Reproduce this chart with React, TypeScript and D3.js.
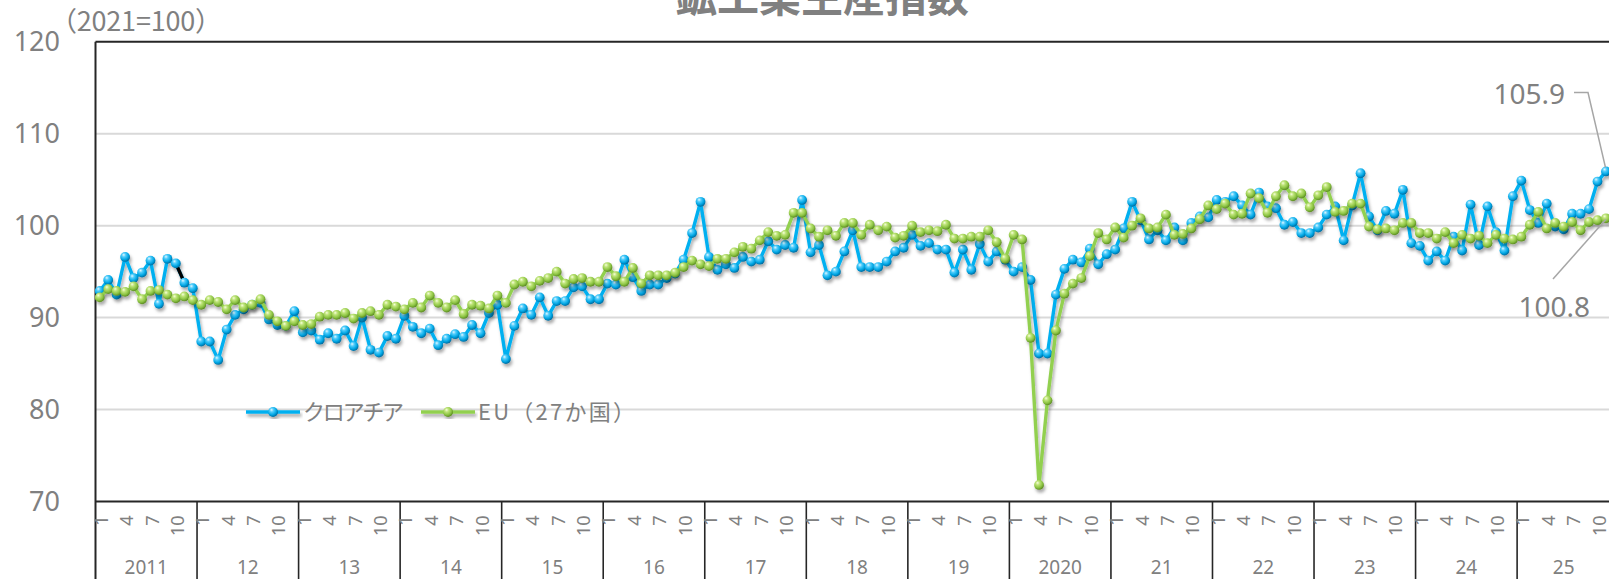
import React from 'react';
import * as d3 from 'd3';

// 鉱工業生産指数（2021=100）：クロアチアとEU（27か国）、2011年1月〜2025年11月
const years = ['2011', '12', '13', '14', '15', '16', '17', '18', '19', '2020', '21', '22', '23', '24', '25'];
const monthTickLabels = [1, 4, 7, 10];
const yTicks = [70, 80, 90, 100, 110, 120];
const gridTicks = [80, 90, 100, 110];

const croatia = [
  92.9, 94.1, 92.5, 96.6, 94.3, 94.9, 96.2, 91.5, 96.4, 95.9, 93.8, 93.2,
  87.4, 87.4, 85.4, 88.7, 90.3, 90.9, 91.4, 91.6, 89.8, 89.2, 89.1, 90.7,
  88.4, 88.6, 87.6, 88.3, 87.7, 88.6, 86.9, 90.0, 86.5, 86.2, 88.0, 87.7,
  90.2, 89.0, 88.3, 88.8, 87.0, 87.7, 88.2, 87.9, 89.2, 88.3, 90.5, 91.4,
  85.5, 89.1, 91.0, 90.3, 92.2, 90.2, 91.8, 91.8, 93.3, 93.4, 92.0, 92.0,
  93.7, 93.6, 96.3, 94.4, 92.9, 93.6, 93.6, 94.3, 94.8, 96.3, 99.2, 102.6,
  96.6, 95.2, 95.8, 95.4, 96.6, 96.1, 96.3, 98.3, 97.4, 97.9, 97.6, 102.8,
  97.1, 97.9, 94.6, 95.0, 97.2, 99.5, 95.5, 95.5, 95.5, 96.1, 97.2, 97.6,
  99.0, 97.8, 98.1, 97.4, 97.4, 94.9, 97.4, 95.2, 98.0, 96.1, 97.2, 96.3,
  95.0, 95.5, 94.1, 86.1, 86.1, 92.5, 95.3, 96.3, 96.0, 97.5, 95.8, 96.9,
  97.4, 99.7, 102.6, 100.6, 98.5, 99.5, 98.4, 99.8, 98.4, 100.3, 101.0, 100.9,
  102.8, 102.6, 103.2, 102.2, 101.2, 103.6, 102.1, 101.9, 100.1, 100.4, 99.2, 99.2,
  99.8, 101.2, 102.1, 98.4, 102.2, 105.7, 101.0, 99.5, 101.6, 101.3, 103.9, 98.1,
  97.8, 96.2, 97.2, 96.2, 98.8, 97.3, 102.3, 97.9, 102.1, 99.3, 97.3, 103.2,
  104.9, 101.7, 100.3, 102.4, 99.9, 99.6, 101.3, 101.3, 101.8, 104.8, 105.9
];

const eu27 = [
  92.2, 93.1, 92.9, 92.8, 93.4, 92.0, 92.9, 93.0, 92.5, 92.1, 92.3, 91.9,
  91.4, 91.9, 91.7, 90.9, 91.9, 91.1, 91.4, 92.0, 90.3, 89.6, 89.1, 89.6,
  89.2, 89.3, 90.1, 90.3, 90.3, 90.5, 89.9, 90.5, 90.7, 90.3, 91.4, 91.2,
  90.9, 91.6, 91.1, 92.4, 91.6, 91.1, 91.9, 90.4, 91.4, 91.3, 91.0, 92.4,
  91.6, 93.6, 93.9, 93.4, 94.0, 94.3, 95.0, 93.7, 94.2, 94.3, 93.9, 93.9,
  95.5, 94.5, 93.9, 95.4, 93.7, 94.6, 94.6, 94.6, 94.9, 95.5, 96.2, 95.8,
  95.6, 96.4, 96.4, 97.1, 97.7, 97.5, 98.4, 99.3, 98.9, 99.0, 101.4, 101.4,
  99.7, 98.8, 99.5, 98.9, 100.3, 100.3, 99.0, 100.1, 99.5, 99.9, 98.7, 98.9,
  100.0, 99.3, 99.5, 99.4, 100.1, 98.6, 98.6, 98.8, 98.8, 99.5, 98.2, 96.4,
  99.0, 98.5, 87.8, 71.8, 81.0, 88.6, 92.6, 93.7, 94.3, 96.7, 99.2, 98.5,
  99.8, 98.7, 100.0, 100.8, 99.7, 99.8, 101.2, 99.0, 99.1, 99.7, 100.7, 102.2,
  101.8, 102.4, 101.2, 101.3, 103.5, 103.0, 101.4, 103.2, 104.4, 103.2, 103.5, 102.0,
  103.3, 104.2, 101.5, 101.6, 102.4, 102.4, 99.9, 99.6, 99.7, 99.5, 100.3, 100.3,
  99.2, 99.2, 98.6, 99.3, 98.1, 99.0, 98.6, 98.9, 98.1, 99.0, 98.6, 98.5,
  98.8, 100.1, 101.5, 99.7, 100.3, 99.9, 100.4, 99.5, 100.4, 100.6, 100.8
];

// 2011年10月→11月の区間だけ元図で黒線になっている
const blackSegment = [9, 10];

const months = years.flatMap((_, yi) =>
  d3.range(1, 13).map(m => `${2011 + yi}-${m}`)
).slice(0, croatia.length);

const FONT = "'Noto Sans', 'Noto Sans CJK JP', sans-serif";
const CJK = "'Noto Sans CJK JP', sans-serif";
const GRAY = '#808080';

const App: React.FC = () => {
  const width = 1609;
  const height = 579;

  const x = d3.scaleBand<string>()
    .domain(months)
    .range([95.5, 95.5 + months.length * 8.462]);
  const cx = (i: number) => (x(months[i]) ?? 0) + x.bandwidth() / 2;
  const y = d3.scaleLinear().domain([70, 120]).range([501.5, 41.8]);

  const line = d3.line<number>().x((_, i) => cx(i)).y(d => y(d));
  const segLine = d3.line<number>().x((_, j) => cx(blackSegment[j])).y(d => y(d));
  const plotLeft = x.range()[0];
  const plotRight = x.range()[1];
  const axisY = y(70);

  const series = [
    { name: 'クロアチア', values: croatia, color: '#00b0f0', grad: 'ballBlue', textLen: 101 },
    { name: 'EU（27か国）', values: eu27, color: '#92d050', grad: 'ballGreen', textLen: 157 }
  ];

  const last = croatia.length - 1;

  return (
    <svg
      width={width}
      height={height}
      style={{ position: 'absolute', left: 0, top: 0, background: '#fff' }}
    >
      <defs>
        <radialGradient id="ballBlue" cx="0.4" cy="0.35" r="0.65" fx="0.35" fy="0.28">
          <stop offset="0" stopColor="#e2f7ff" />
          <stop offset="0.3" stopColor="#52cdfb" />
          <stop offset="0.7" stopColor="#00a6e4" />
          <stop offset="1" stopColor="#006c9f" />
        </radialGradient>
        <radialGradient id="ballGreen" cx="0.4" cy="0.35" r="0.65" fx="0.35" fy="0.28">
          <stop offset="0" stopColor="#f6ffdc" />
          <stop offset="0.3" stopColor="#bfe47a" />
          <stop offset="0.7" stopColor="#8cc443" />
          <stop offset="1" stopColor="#5b8a22" />
        </radialGradient>
        <filter id="shadow" x="-5%" y="-10%" width="110%" height="130%">
          <feDropShadow dx="1.5" dy="3" stdDeviation="1.8" floodColor="#000" floodOpacity="0.32" />
        </filter>
      </defs>

      {/* title (cut off by the frame at the top, as in the source) */}
      <text
        x={822}
        y={12}
        textAnchor="middle"
        fontFamily={CJK}
        fontWeight="bold"
        fontSize={42}
        fill={GRAY}
      >
        鉱工業生産指数
      </text>

      <text x={50} y={31} fontFamily={CJK} fontSize={27} fill={GRAY} textLength={172} lengthAdjust="spacing">
        （2021=100）
      </text>

      {/* gridlines */}
      {gridTicks.map(t => (
        <line key={t} x1={plotLeft} x2={plotRight} y1={y(t)} y2={y(t)} stroke="#d9d9d9" strokeWidth={2} />
      ))}

      {/* y tick labels */}
      {yTicks.map(t => (
        <text
          key={t}
          x={60}
          y={y(t)}
          dy="0.35em"
          textAnchor="end"
          fontFamily={FONT}
          fontSize={27}
          fill={GRAY}
        >
          {t}
        </text>
      ))}

      {/* frame */}
      <line x1={plotLeft} x2={plotRight} y1={y(120)} y2={y(120)} stroke="#262626" strokeWidth={2} />
      <line x1={plotLeft} x2={plotRight} y1={axisY} y2={axisY} stroke="#262626" strokeWidth={2} />
      <line x1={plotLeft} x2={plotLeft} y1={y(120)} y2={height} stroke="#262626" strokeWidth={2} />

      {/* year separators */}
      {years.slice(1).map((yr, k) => {
        const xs = x(months[(k + 1) * 12]) ?? 0;
        return <line key={yr} x1={xs} x2={xs} y1={axisY} y2={height} stroke="#262626" strokeWidth={1.6} />;
      })}

      {/* month labels */}
      {months.map((m, i) => {
        const mm = +m.split('-')[1];
        if (!monthTickLabels.includes(mm)) return null;
        return (
          <text
            key={m}
            transform={`translate(${cx(i) + 1}, ${axisY + 14}) rotate(-90)`}
            textAnchor="end"
            dominantBaseline="central"
            fontFamily={FONT}
            fontSize={18}
            fill={GRAY}
          >
            {mm}
          </text>
        );
      })}

      {/* year labels */}
      {years.map((yr, k) => {
        const group = months.slice(k * 12, k * 12 + 12);
        const x0 = x(group[0]) ?? 0;
        const x1 = (x(group[group.length - 1]) ?? 0) + x.bandwidth();
        return (
          <text
            key={yr}
            x={(x0 + x1) / 2}
            y={567}
            dy="0.35em"
            textAnchor="middle"
            fontFamily={FONT}
            fontSize={19}
            fill={GRAY}
          >
            {yr}
          </text>
        );
      })}

      {/* series */}
      {series.map((s, si) => (
        <g key={s.name} filter="url(#shadow)">
          <path d={line(s.values) ?? ''} fill="none" stroke={s.color} strokeWidth={3.4} strokeLinejoin="round" />
          {si === 0 && (
            <path
              d={segLine(blackSegment.map(i => croatia[i])) ?? ''}
              fill="none"
              stroke="#000"
              strokeWidth={3.4}
            />
          )}
          {s.values.map((v, i) => (
            <circle key={i} cx={cx(i)} cy={y(v)} r={4.9} fill={`url(#${s.grad})`} />
          ))}
        </g>
      ))}

      {/* legend */}
      {series.map((s, si) => {
        const lx = si === 0 ? 246 : 421;
        const ly = 412;
        return (
          <g key={s.name}>
            <g filter="url(#shadow)">
              <line x1={lx} x2={lx + 54} y1={ly} y2={ly} stroke={s.color} strokeWidth={3.4} />
              <circle cx={lx + 27} cy={ly} r={5} fill={`url(#${s.grad})`} />
            </g>
            <text
              x={lx + 57}
              y={ly}
              dy="0.36em"
              fontFamily={CJK}
              fontSize={22}
              fill={GRAY}
              textLength={s.textLen}
              lengthAdjust="spacing"
            >
              {s.name}
            </text>
          </g>
        );
      })}

      {/* data labels for the latest month */}
      <polyline
        points={`1574,92.5 1588,92.5 ${cx(last) - 0.5},${y(croatia[last]) - 4}`}
        fill="none"
        stroke="#a6a6a6"
        strokeWidth={1.5}
      />
      <text x={1565} y={94} dy="0.36em" textAnchor="end" fontFamily={FONT} fontSize={28} fill={GRAY}>
        {croatia[last].toFixed(1)}
      </text>
      <line
        x1={1553}
        y1={279}
        x2={cx(last)}
        y2={y(eu27[last]) + 1}
        stroke="#a6a6a6"
        strokeWidth={1.5}
      />
      <text x={1590} y={307} dy="0.36em" textAnchor="end" fontFamily={FONT} fontSize={28} fill={GRAY}>
        {eu27[last].toFixed(1)}
      </text>
    </svg>
  );
};

export default App;
